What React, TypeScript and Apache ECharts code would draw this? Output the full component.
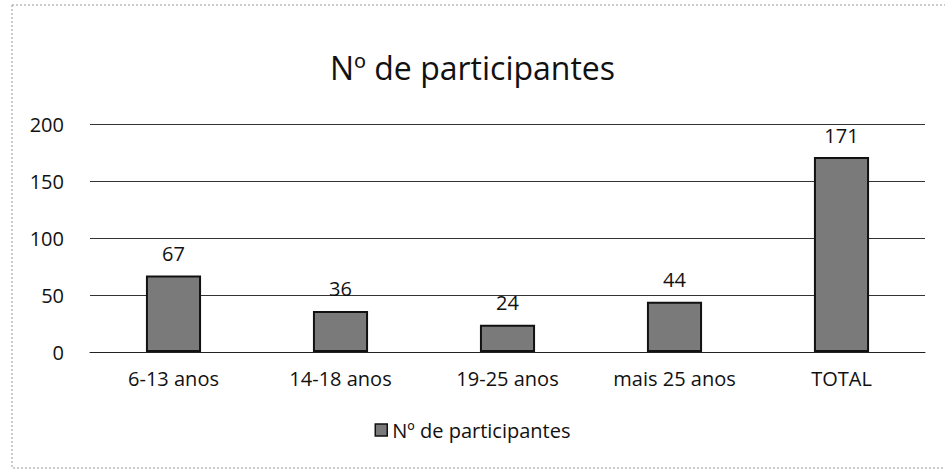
import React, { useEffect, useRef } from "react";
import * as echarts from "echarts";

const categories = ["6-13 anos", "14-18 anos", "19-25 anos", "mais 25 anos", "TOTAL"];
const participantes = [67, 36, 24, 44, 171];
const yTicks = [0, 50, 100, 150, 200];
const seriesName = "Nº de participantes";
const titleText = "Nº de participantes";

export default function App() {
  const ref = useRef<HTMLDivElement>(null);
  useEffect(() => {
    if (!ref.current) return;
    const chart = echarts.init(ref.current, null, { renderer: "svg" });
    const font = "'Open Sans', 'DejaVu Sans', sans-serif";
    chart.setOption({
      animation: false,
      backgroundColor: "#ffffff",
      textStyle: { fontFamily: font, color: "#111" },
      title: {
        text: titleText,
        left: "center",
        top: 46,
        textStyle: { fontFamily: font, fontSize: 32, fontWeight: "normal", color: "#111" },
      },
      grid: { left: 90, right: 20, top: 124, bottom: 123, containLabel: false },
      legend: {
        bottom: 30,
        left: "center",
        icon: "rect",
        itemWidth: 12,
        itemHeight: 12,
        itemGap: 4,
        textStyle: { fontFamily: font, fontSize: 20, color: "#111" },
        data: [{ name: seriesName, itemStyle: { color: "#7a7a7a", borderColor: "#111", borderWidth: 1.5 } }],
      },
      xAxis: {
        type: "category",
        data: categories,
        axisLine: { show: true, lineStyle: { color: "#222", width: 1 } },
        axisTick: { show: false },
        axisLabel: { fontFamily: font, fontSize: 20, color: "#111", margin: 16 },
      },
      yAxis: {
        type: "value",
        min: yTicks[0],
        max: yTicks[yTicks.length - 1],
        interval: 50,
        axisLine: { show: false },
        axisTick: { show: false },
        axisLabel: { fontFamily: font, fontSize: 20, color: "#111", margin: 26 },
        splitLine: { show: true, lineStyle: { color: "#333", width: 1 } },
      },
      series: [
        {
          name: seriesName,
          type: "bar",
          data: participantes,
          barWidth: "33%",
          itemStyle: { color: "#7a7a7a", borderColor: "#111", borderWidth: 2 },
          label: {
            show: true,
            position: "top",
            distance: 12,
            fontFamily: font,
            fontSize: 20,
            color: "#111",
          },
        },
      ],
      graphic: [
        {
          type: "rect",
          shape: { x: 12, y: 5, width: 940, height: 463 },
          style: { fill: "none", stroke: "#999", lineWidth: 1, lineDash: [2, 2] },
          silent: true,
        },
      ],
    });
    return () => chart.dispose();
  }, []);
  return <div ref={ref} style={{ width: 945, height: 475, position: "absolute", left: 0, top: 0 }} />;
}
